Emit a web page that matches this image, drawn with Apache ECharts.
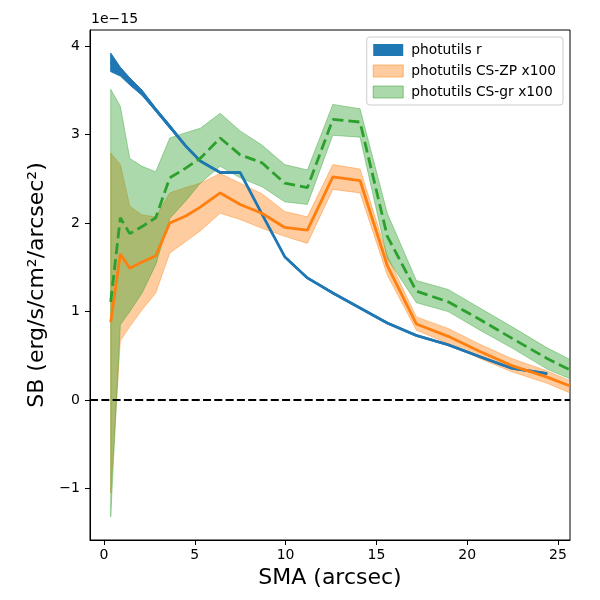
<!DOCTYPE html>
<html>
<head>
<meta charset="utf-8">
<script src="https://cdn.jsdelivr.net/npm/echarts@6/dist/echarts.min.js"></script>
<style>
  html, body { margin: 0; padding: 0; background: #fff; }
  #main { width: 600px; height: 600px; }
</style>
</head>
<body>
<div id="main"></div>
<script>
// SMA grid (arcsec), shared by all profiles
var sma = [0.37, 0.9, 1.42, 2.1, 2.85, 3.62, 4.5, 5.3, 6.4, 7.5, 8.7, 9.95, 11.2, 12.6, 14.1, 15.6, 17.2, 18.95, 20.7, 22.45, 24.4, 25.66];

// surface brightness, units of 1e-15 erg/s/cm2/arcsec2
var rLine  = [3.82, 3.71, 3.60, 3.47, 3.28, 3.09, 2.87, 2.70, 2.57, 2.57, 2.10, 1.62, 1.38, 1.21, 1.04, 0.87, 0.73, 0.625, 0.49, 0.36, 0.30];
var rUpper = [3.92, 3.76, 3.64, 3.50, 3.30, 3.11, 2.88, 2.71, 2.58, 2.58, 2.11, 1.63, 1.39, 1.22, 1.05, 0.88, 0.74, 0.635, 0.50, 0.37, 0.31];
var rLower = [3.71, 3.66, 3.56, 3.44, 3.26, 3.07, 2.86, 2.69, 2.56, 2.56, 2.09, 1.61, 1.37, 1.20, 1.03, 0.86, 0.72, 0.615, 0.48, 0.35, 0.29];

var zpLine  = [0.88, 1.65, 1.49, 1.56, 1.63, 2.00, 2.08, 2.18, 2.34, 2.21, 2.11, 1.95, 1.92, 2.52, 2.48, 1.52, 0.86, 0.72, 0.55, 0.39, 0.26, 0.16];
var zpUpper = [2.79, 2.66, 2.19, 2.09, 2.07, 2.34, 2.40, 2.45, 2.56, 2.45, 2.33, 2.13, 2.07, 2.66, 2.61, 1.63, 0.94, 0.81, 0.63, 0.47, 0.33, 0.22];
var zpLower = [-1.05, 0.67, 0.83, 1.02, 1.21, 1.66, 1.79, 1.91, 2.11, 2.04, 1.94, 1.85, 1.77, 2.38, 2.34, 1.41, 0.79, 0.64, 0.47, 0.32, 0.19, 0.08];

var grLine  = [1.11, 2.06, 1.88, 1.96, 2.06, 2.51, 2.62, 2.73, 2.96, 2.77, 2.68, 2.45, 2.40, 3.17, 3.14, 1.85, 1.23, 1.11, 0.91, 0.70, 0.47, 0.34];
var grUpper = [3.51, 3.32, 2.73, 2.64, 2.58, 2.96, 3.02, 3.07, 3.24, 3.04, 2.88, 2.66, 2.60, 3.34, 3.29, 2.11, 1.35, 1.25, 1.04, 0.83, 0.59, 0.46];
var grLower = [-1.32, 0.85, 1.00, 1.21, 1.53, 2.05, 2.25, 2.45, 2.64, 2.51, 2.41, 2.24, 2.21, 2.99, 2.97, 1.60, 1.10, 1.00, 0.79, 0.59, 0.35, 0.24];

var xTicks = [0, 5, 10, 15, 20, 25];
var yTicks = [-1, 0, 1, 2, 3, 4];

var names = ['photutils r', 'photutils CS-ZP x100', 'photutils CS-gr x100'];
var FONT = 'DejaVu Sans';

function pairs(vals) {
  var out = [];
  for (var i = 0; i < vals.length; i++) out.push([sma[i], vals[i]]);
  return out;
}

// fill_between style band, drawn as one polygon through the axes
function band(name, lower, upper, color) {
  var data = [];
  for (var i = 0; i < lower.length; i++) data.push([sma[i], lower[i], upper[i]]);
  return {
    name: name,
    type: 'custom',
    clip: true,
    data: data,
    encode: { x: 0, y: [1, 2] },
    itemStyle: { color: color },
    silent: true,
    renderItem: function (params, api) {
      if (params.dataIndex !== 0) return null;
      var pts = [];
      for (var i = 0; i < data.length; i++) pts.push(api.coord([data[i][0], data[i][2]]));
      for (var j = data.length - 1; j >= 0; j--) pts.push(api.coord([data[j][0], data[j][1]]));
      return {
        type: 'polygon',
        shape: { points: pts },
        style: { fill: color, stroke: color, lineWidth: 1 }
      };
    }
  };
}

function line(name, vals, color, dash) {
  return {
    name: name,
    type: 'line',
    data: pairs(vals),
    showSymbol: false,
    symbol: 'none',
    silent: true,
    lineStyle: { color: color, width: 2.8, type: dash || 'solid' }
  };
}

var chart = echarts.init(document.getElementById('main'));

var grLineSeries = line('gr line', grLine, '#2ca02c', [11, 5]);
grLineSeries.markLine = {
  silent: true,
  symbol: 'none',
  label: { show: false },
  lineStyle: { color: '#000', width: 2, type: [8, 3.3] },
  data: [{ yAxis: 0 }]
};

var option = {
  animation: false,
  backgroundColor: '#fff',
  grid: { left: 90, right: 30, top: 30, bottom: 60, show: true, borderColor: '#000', borderWidth: 1 },
  legend: {
    orient: 'vertical',
    right: 37,
    top: 37,
    padding: [6, 7, 6, 6],
    itemWidth: 30,
    itemHeight: 12,
    itemGap: 7,
    backgroundColor: 'rgba(255,255,255,0.8)',
    borderColor: '#cccccc',
    borderWidth: 1,
    borderRadius: 3,
    textStyle: { fontFamily: FONT, fontSize: 13.8, color: '#000', padding: [0, 0, 0, 3] },
    data: [
      { name: names[0], icon: 'rect', itemStyle: { color: '#1f77b4' } },
      { name: names[1], icon: 'rect', itemStyle: { color: 'rgba(255,127,14,0.4)', borderColor: 'rgba(255,127,14,0.5)', borderWidth: 1 } },
      { name: names[2], icon: 'rect', itemStyle: { color: 'rgba(44,160,44,0.4)', borderColor: 'rgba(44,160,44,0.5)', borderWidth: 1 } }
    ]
  },
  xAxis: {
    type: 'value',
    min: -0.77,
    max: 25.66,
    name: 'SMA (arcsec)',
    nameLocation: 'middle',
    nameGap: 26,
    nameTextStyle: { fontFamily: FONT, fontSize: 22, color: '#000' },
    axisLine: { show: true, onZero: false, lineStyle: { color: '#000', width: 1 } },
    axisTick: { show: true, inside: false, length: 5, lineStyle: { color: '#000' }, customValues: xTicks },
    axisLabel: { fontFamily: FONT, fontSize: 14, color: '#000', margin: 8, customValues: xTicks },
    splitLine: { show: false }
  },
  yAxis: {
    type: 'value',
    min: -1.58,
    max: 4.18,
    name: 'SB (erg/s/cm\u00b2/arcsec\u00b2)',
    nameLocation: 'middle',
    nameGap: 42,
    nameRotate: 90,
    nameTextStyle: { fontFamily: FONT, fontSize: 22, color: '#000' },
    axisLine: { show: true, onZero: false, lineStyle: { color: '#000', width: 1 } },
    axisTick: { show: true, inside: false, length: 5, lineStyle: { color: '#000' }, customValues: yTicks },
    axisLabel: { fontFamily: FONT, fontSize: 14, color: '#000', margin: 10, customValues: yTicks,
      formatter: function (v) { return v < 0 ? '\u2212' + Math.abs(v) : String(v); } },
    splitLine: { show: false }
  },
  graphic: [{
    type: 'text',
    left: 91,
    top: 12,
    style: { text: '1e\u221215', fontFamily: FONT, fontSize: 14, fill: '#000' }
  }],
  series: [
    band(names[0], rLower, rUpper, '#1f77b4'),
    band(names[1], zpLower, zpUpper, 'rgba(255,127,14,0.4)'),
    band(names[2], grLower, grUpper, 'rgba(44,160,44,0.4)'),
    line('r line', rLine, '#1f77b4'),
    line('zp line', zpLine, '#ff7f0e'),
    grLineSeries
  ]
};

chart.setOption(option);
</script>
</body>
</html>
